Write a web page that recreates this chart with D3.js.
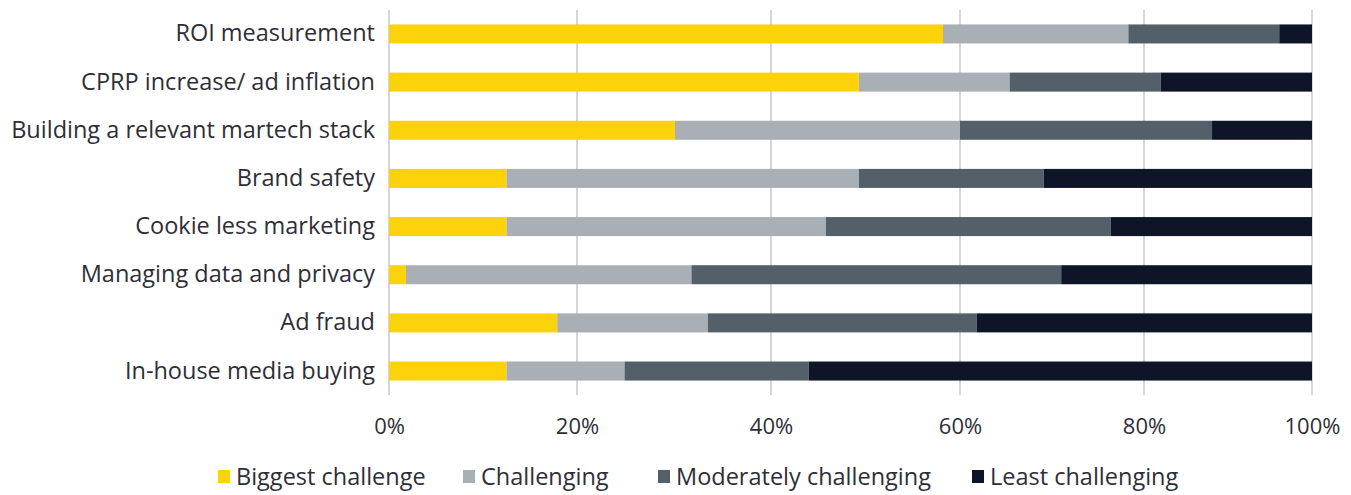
<!DOCTYPE html>
<html>
<head>
<meta charset="utf-8">
<script src="https://cdn.jsdelivr.net/npm/d3@7"></script>
<style>
  body { margin: 0; background: #fff; }
  text { font-family: "Open Sans", sans-serif; fill: #2e2e38; }
</style>
</head>
<body>
<svg id="chart" width="1351" height="495"></svg>
<script>
var categories = ["ROI measurement", "CPRP increase/ ad inflation", "Building a relevant martech stack",
                  "Brand safety", "Cookie less marketing", "Managing data and privacy",
                  "Ad fraud", "In-house media buying"];
var seriesNames = ["Biggest challenge", "Challenging", "Moderately challenging", "Least challenging"];
var biggest     = [58.2, 49.3, 30.1, 12.5, 12.5, 1.8, 17.9, 12.5];
var challenging = [20.1, 16.1, 29.9, 36.8, 33.3, 30.0, 15.6, 12.4];
var moderately  = [17.8, 16.6, 28.1, 19.8, 30.6, 39.2, 28.3, 19.1];
var least       = [3.9, 18.0, 11.9, 30.9, 23.6, 29.0, 38.2, 56.0];
var tickValues  = [0, 20, 40, 60, 80, 100];
var colors = ["#fcd20a", "#a8afb5", "#535f69", "#0f1528"];

var svg = d3.select("#chart");

var rows = categories.map(function(c, i){
  return {cat: c, s0: biggest[i], s1: challenging[i], s2: moderately[i], s3: least[i]};
});
var stack = d3.stack().keys(["s0", "s1", "s2", "s3"]);
var layers = stack(rows);

// gridlines in the reference are slightly uneven, so map each tick to its spot
var x = d3.scaleLinear()
          .domain(tickValues)
          .range([389, 577, 771, 960, 1144, 1312]);
var y = d3.scaleBand()
          .domain(categories)
          .range([10, 395])
          .paddingInner(0.605)
          .paddingOuter(0.3);

// gridlines
svg.append("g")
   .selectAll("line")
   .data(tickValues)
   .enter()
   .append("line")
   .attr("x1", d => x(d)).attr("x2", d => x(d))
   .attr("y1", 10).attr("y2", 395)
   .attr("stroke", "#bcc2c8")
   .attr("stroke-width", 1.3);

// bars
svg.append("g")
   .selectAll("g")
   .data(layers)
   .enter()
   .append("g")
   .attr("fill", (d, i) => colors[i])
   .selectAll("rect")
   .data(d => d)
   .enter()
   .append("rect")
   .attr("x", d => x(d[0]))
   .attr("width", d => x(d[1]) - x(d[0]))
   .attr("y", d => y(d.data.cat))
   .attr("height", y.bandwidth());

// x axis labels
var xAxis = svg.append("g")
   .attr("transform", "translate(0,400)")
   .call(d3.axisBottom(x).tickValues(tickValues).tickFormat(d => d + "%").tickSize(0).tickPadding(18));
xAxis.select(".domain").remove();
xAxis.selectAll("text").attr("font-size", "22px").style("font-family", "Open Sans, sans-serif").attr("fill", "#2e2e38");

// y axis labels
var yAxis = svg.append("g")
   .attr("transform", "translate(389,0)")
   .call(d3.axisLeft(y).tickSize(0).tickPadding(14));
yAxis.select(".domain").remove();
yAxis.selectAll("text").attr("font-size", "23.5px").style("font-family", "Open Sans, sans-serif").attr("fill", "#2e2e38");

// legend
var legendX = [218, 463, 658, 972];
var legend = svg.append("g")
   .selectAll("g")
   .data(seriesNames)
   .enter()
   .append("g")
   .attr("transform", (d, i) => "translate(" + legendX[i] + ",470)");
legend.append("rect")
   .attr("width", 12).attr("height", 13)
   .attr("fill", (d, i) => colors[i]);
legend.append("text")
   .attr("x", 18).attr("y", 7)
   .attr("dy", "0.36em")
   .attr("font-size", "23.5px")
   .text(d => d);
</script>
</body>
</html>
